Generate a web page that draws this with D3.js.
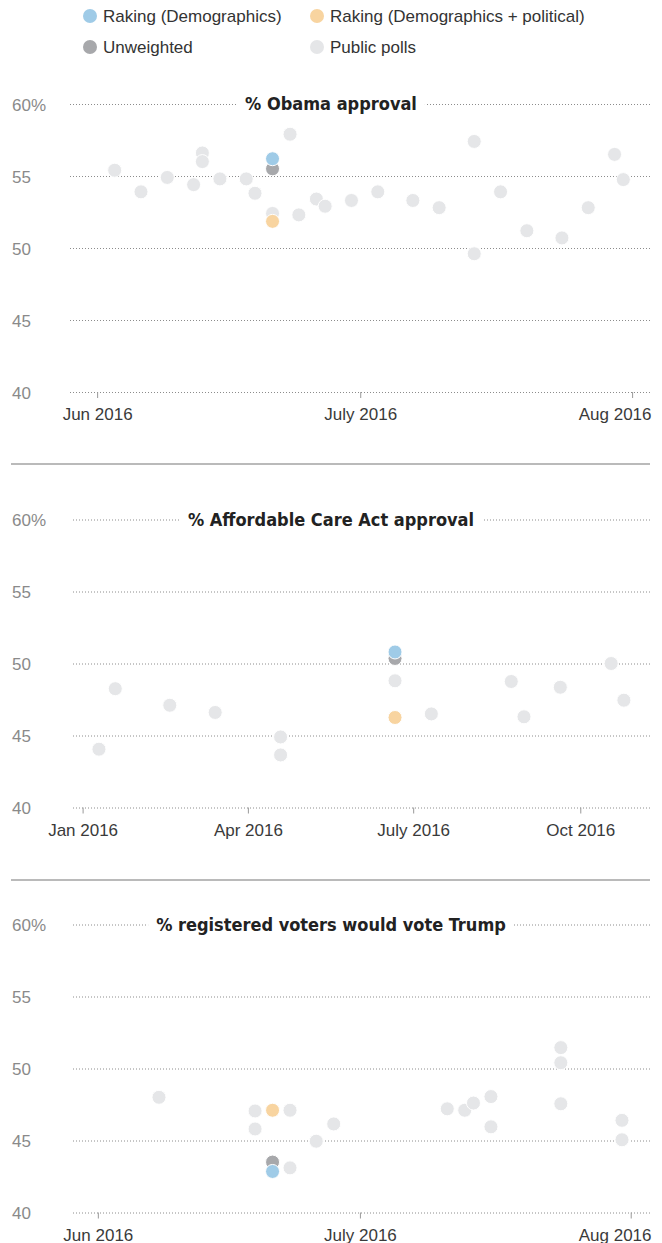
<!DOCTYPE html>
<html>
<head>
<meta charset="utf-8">
<script src="https://cdn.jsdelivr.net/npm/d3@7"></script>
<style>
  body { margin: 0; background: #fff; }
</style>
</head>
<body>
<script>
const width = 662;
const height = 1243;
const gridRight = 650;
const panelHeight = 288;

const legendLabels = ["Raking (Demographics)", "Raking (Demographics + political)", "Unweighted", "Public polls"];
const colors = ["#9fcbe7", "#f8d4a0", "#a7a8ab", "#e5e6e8"];

const yTicks = [40, 45, 50, 55, 60];
const surveyDate = "2016-06-21";

// % Obama approval
const obamaPolls = [
    ["2016-06-03", 55.4], ["2016-06-06", 53.9], ["2016-06-09", 54.9], ["2016-06-12", 54.4],
    ["2016-06-13", 56.6], ["2016-06-13", 56.0], ["2016-06-15", 54.8], ["2016-06-18", 54.8],
    ["2016-06-19", 53.8], ["2016-06-21", 52.4], ["2016-06-23", 57.9], ["2016-06-24", 52.3],
    ["2016-06-26", 53.4], ["2016-06-27", 52.9], ["2016-06-30", 53.3], ["2016-07-03", 53.9],
    ["2016-07-07", 53.3], ["2016-07-10", 52.8], ["2016-07-14", 57.4], ["2016-07-14", 49.6],
    ["2016-07-17", 53.9], ["2016-07-20", 51.2], ["2016-07-24", 50.7], ["2016-07-27", 52.8],
    ["2016-07-30", 56.5], ["2016-07-31", 54.75]
];
const obamaSurvey = [56.2, 51.85, 55.5]; // demographics, demographics + political, unweighted
const obamaTicks = ["2016-06-01", "2016-07-01", "2016-08-01"];
const obamaTickLabels = ["Jun 2016", "July 2016", "Aug 2016"];

// % Affordable Care Act approval
const acaPolls = [
    ["2016-01-10", 44.05], ["2016-01-19", 48.25], ["2016-02-18", 47.1], ["2016-03-14", 46.6],
    ["2016-04-19", 44.9], ["2016-04-19", 43.65], ["2016-06-21", 48.8], ["2016-07-11", 46.5],
    ["2016-08-24", 48.75], ["2016-08-31", 46.3], ["2016-09-20", 48.35], ["2016-10-18", 50.0],
    ["2016-10-25", 47.45]
];
const acaSurvey = [50.8, 46.25, 50.35];
const acaTicks = ["2016-01-01", "2016-04-01", "2016-07-01", "2016-10-01"];
const acaTickLabels = ["Jan 2016", "Apr 2016", "July 2016", "Oct 2016"];

// % registered voters would vote Trump
const trumpPolls = [
    ["2016-06-08", 48.0], ["2016-06-19", 47.05], ["2016-06-19", 45.8], ["2016-06-23", 47.1],
    ["2016-06-23", 43.1], ["2016-06-26", 44.95], ["2016-06-28", 46.15], ["2016-07-11", 47.2],
    ["2016-07-13", 47.1], ["2016-07-14", 47.6], ["2016-07-16", 48.05], ["2016-07-16", 45.95],
    ["2016-07-24", 51.45], ["2016-07-24", 50.4], ["2016-07-24", 47.55], ["2016-07-31", 46.4],
    ["2016-07-31", 45.05]
];
const trumpSurvey = [42.85, 47.1, 43.5];
const trumpTicks = ["2016-06-01", "2016-07-01", "2016-08-01"];
const trumpTickLabels = ["Jun 2016", "July 2016", "Aug 2016"];

const parseDay = d3.timeParse("%Y-%m-%d");
const parseHour = d3.timeParse("%Y-%m-%d %H");

const svg = d3.select("body")
    .append("svg")
    .attr("width", width)
    .attr("height", height)
    .style("font-family", "'Liberation Sans', Arial, sans-serif");

// legend
legendLabels.forEach((label, i) => {
    const lx = i % 2 === 0 ? 90 : 317;
    const ly = i < 2 ? 16 : 47;
    svg.append("circle")
        .attr("cx", lx)
        .attr("cy", ly)
        .attr("r", 7)
        .attr("fill", colors[i]);
    svg.append("text")
        .attr("x", lx + 13)
        .attr("y", ly)
        .attr("dy", "0.36em")
        .attr("font-size", 17)
        .attr("fill", "#333")
        .text(label);
});

// separators between panels
[464, 880].forEach(sy => {
    svg.append("line")
        .attr("x1", 11).attr("x2", gridRight)
        .attr("y1", sy).attr("y2", sy)
        .attr("stroke", "#a3a3a3")
        .attr("stroke-width", 1.5);
});

function drawPanel(p) {
    const xScale = d3.scaleTime()
        .domain(p.domain.map(parseHour))
        .range([p.left, gridRight]);
    const yScale = d3.scaleLinear()
        .domain([40, 60])
        .range([p.top + panelHeight, p.top]);

    // horizontal dotted gridlines with labels at the far left
    const yAxis = svg.append("g")
        .attr("transform", `translate(${gridRight},0)`)
        .call(d3.axisLeft(yScale)
            .tickValues(yTicks)
            .tickSize(gridRight - p.left)
            .tickFormat(d => d === 60 ? d + "%" : d));
    yAxis.select(".domain").remove();
    yAxis.attr("font-family", null).attr("font-size", 17);
    yAxis.selectAll(".tick line")
        .attr("stroke", "#8c8c8c")
        .attr("stroke-dasharray", "1,2");
    yAxis.selectAll(".tick text")
        .attr("x", 12 - gridRight)
        .attr("dy", "0.36em")
        .attr("text-anchor", "start")
        .attr("fill", "#8a8a8a");

    // x axis
    const xAxis = svg.append("g")
        .attr("transform", `translate(0,${p.top + panelHeight})`)
        .call(d3.axisBottom(xScale)
            .tickValues(p.ticks.map(parseDay))
            .tickSize(6)
            .tickPadding(10)
            .tickFormat((d, i) => p.tickLabels[i]));
    xAxis.select(".domain").remove();
    xAxis.attr("font-family", null).attr("font-size", 17);
    xAxis.selectAll(".tick line").attr("stroke", "#999");
    xAxis.selectAll(".tick text").attr("fill", "#3a3a3a");
    if (p.lastRight) {
        const last = p.ticks[p.ticks.length - 1];
        xAxis.selectAll(".tick text")
            .filter((d, i) => i === p.ticks.length - 1)
            .attr("text-anchor", "end")
            .attr("x", gridRight + 1 - xScale(parseDay(last)));
    }

    // title sitting on the top gridline
    const tg = svg.append("g");
    const title = tg.append("text")
        .attr("x", 331)
        .attr("y", p.top)
        .attr("dy", "0.36em")
        .attr("text-anchor", "middle")
        .attr("font-family", "'DejaVu Sans Condensed', 'DejaVu Sans', sans-serif")
        .attr("font-weight", "bold")
        .attr("font-size", 18)
        .attr("fill", "#222")
        .text(p.title);
    const bb = title.node().getBBox();
    tg.insert("rect", "text")
        .attr("x", bb.x - 8)
        .attr("y", bb.y)
        .attr("width", bb.width + 16)
        .attr("height", bb.height)
        .attr("fill", "#fff");

    // public polls
    const dots = svg.append("g");
    dots.selectAll("circle.poll")
        .data(p.polls)
        .join("circle")
        .attr("class", "poll")
        .attr("cx", d => xScale(parseDay(d[0])))
        .attr("cy", d => yScale(d[1]))
        .attr("r", 7)
        .attr("fill", colors[3])
        .attr("stroke", "#fff")
        .attr("stroke-width", 1);

    // survey estimates: unweighted first, then the two rakings on top
    [2, 1, 0].forEach(k => {
        dots.append("circle")
            .attr("cx", xScale(parseDay(surveyDate)))
            .attr("cy", yScale(p.survey[k]))
            .attr("r", 7)
            .attr("fill", colors[k])
            .attr("stroke", "#fff")
            .attr("stroke-width", 1);
    });
}

drawPanel({
    title: "% Obama approval",
    polls: obamaPolls,
    survey: obamaSurvey,
    ticks: obamaTicks,
    tickLabels: obamaTickLabels,
    domain: ["2016-05-28 19", "2016-08-03 01"],
    left: 69,
    top: 104,
    lastRight: true
});

drawPanel({
    title: "% Affordable Care Act approval",
    polls: acaPolls,
    survey: acaSurvey,
    ticks: acaTicks,
    tickLabels: acaTickLabels,
    domain: ["2015-12-26 04", "2016-11-08 09"],
    left: 72,
    top: 519.5,
    lastRight: false
});

drawPanel({
    title: "% registered voters would vote Trump",
    polls: trumpPolls,
    survey: trumpSurvey,
    ticks: trumpTicks,
    tickLabels: trumpTickLabels,
    domain: ["2016-05-29 01", "2016-08-03 05"],
    left: 72,
    top: 924.5,
    lastRight: true
});
</script>
</body>
</html>
